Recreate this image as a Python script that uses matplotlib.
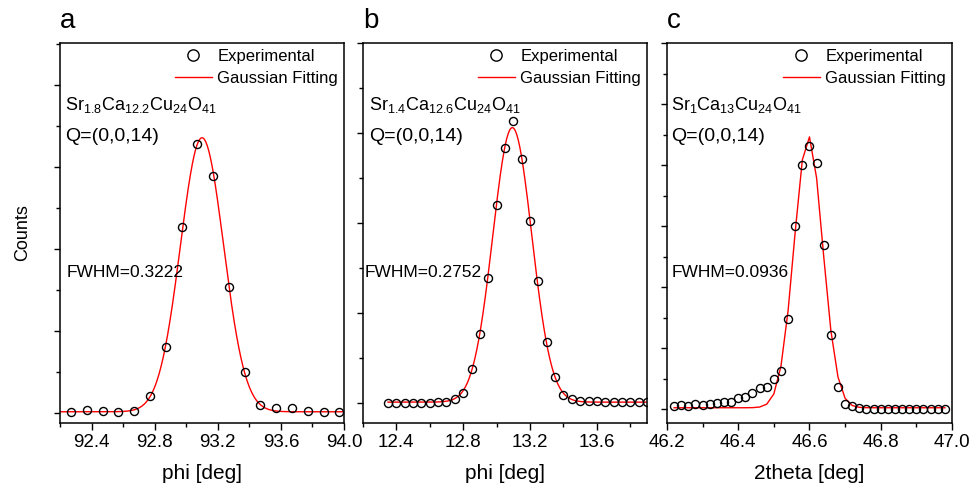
import numpy as np
import matplotlib
matplotlib.use("Agg")
from matplotlib import pyplot as plt
from matplotlib.ticker import MultipleLocator

plt.rcParams['font.family'] = ['Liberation Sans', 'DejaVu Sans']
plt.rcParams['mathtext.fontset'] = 'custom'
plt.rcParams['mathtext.rm'] = 'Liberation Sans'
plt.rcParams['mathtext.it'] = 'Liberation Sans'

# ---- panel a : phi scan, Sr1.8Ca12.2Cu24O41 (counts in tick units) ----
a_x = [92.27, 92.37, 92.47, 92.57, 92.67, 92.77, 92.87, 92.97, 93.07,
       93.17, 93.27, 93.37, 93.47, 93.57, 93.67, 93.77, 93.87, 93.97]
a_y = [0.03, 0.07, 0.06, 0.02, 0.06, 0.41, 1.60, 4.54, 6.56,
       5.79, 3.08, 1.01, 0.20, 0.13, 0.13, 0.04, 0.03, 0.03]
a_fit = [93.10, 0.3222, 6.68, 0.03]   # center, FWHM, height, background

# ---- panel b : phi scan, Sr1.4Ca12.6Cu24O41 ----
b_x = [12.35, 12.40, 12.45, 12.50, 12.55, 12.60, 12.65, 12.70, 12.75, 12.80,
       12.85, 12.90, 12.95, 13.00, 13.05, 13.10, 13.15, 13.20, 13.25, 13.30,
       13.35, 13.40, 13.45, 13.50, 13.55, 13.60, 13.65, 13.70, 13.75, 13.80,
       13.85, 13.90]
b_y = [0.01, 0.01, 0.01, 0.01, 0.01, 0.01, 0.02, 0.03, 0.10, 0.22,
       0.75, 1.54, 2.78, 4.41, 5.66, 6.27, 5.43, 4.05, 2.71, 1.36,
       0.58, 0.18, 0.09, 0.05, 0.04, 0.04, 0.03, 0.03, 0.03, 0.03,
       0.03, 0.03]
b_fit = [13.094, 0.2752, 6.10, 0.02]

# ---- panel c : 2theta scan, Sr1Ca13Cu24O41 ----
c_x = [46.22, 46.24, 46.26, 46.28, 46.30, 46.32, 46.34, 46.36, 46.38, 46.40,
       46.42, 46.44, 46.46, 46.48, 46.50, 46.52, 46.54, 46.56, 46.58, 46.60,
       46.62, 46.64, 46.66, 46.68, 46.70, 46.72, 46.74, 46.76, 46.78, 46.80,
       46.82, 46.84, 46.86, 46.88, 46.90, 46.92, 46.94, 46.96, 46.98]
c_y = [0.12, 0.14, 0.12, 0.17, 0.14, 0.17, 0.22, 0.24, 0.25, 0.37,
       0.39, 0.54, 0.69, 0.74, 0.98, 1.27, 2.96, 6.01, 7.99, 8.61,
       8.07, 5.39, 2.42, 0.73, 0.18, 0.12, 0.03, 0.02, 0.02, 0.02,
       0.02, 0.02, 0.02, 0.02, 0.02, 0.02, 0.02, 0.02, 0.02]
c_fit = [46.597, 0.0936, 8.90, 0.05]

labels = ["a", "b", "c"]
formulas = [r"Sr$_{1.8}$Ca$_{12.2}$Cu$_{24}$O$_{41}$",
            r"Sr$_{1.4}$Ca$_{12.6}$Cu$_{24}$O$_{41}$",
            r"Sr$_{1}$Ca$_{13}$Cu$_{24}$O$_{41}$"]
fwhm_txt = ["FWHM=0.3222", "FWHM=0.2752", "FWHM=0.0936"]
xlabels = ["phi [deg]", "phi [deg]", "2theta [deg]"]


def gauss(x, p):
    c, fw, h, bg = p
    s = fw / (2 * np.sqrt(2 * np.log(2)))
    return bg + h * np.exp(-(x - c) ** 2 / (2 * s ** 2))


fig = plt.figure(figsize=(9.71, 4.86), dpi=100)
rects = [[0.0618, 0.1296, 0.2925, 0.7819],
         [0.3738, 0.1296, 0.2925, 0.7819],
         [0.6869, 0.1296, 0.2935, 0.7819]]

panels = [
    (a_x, a_y, a_fit, (92.2, 94.0), (-0.244, 9.02), np.linspace(92.2, 94.0, 400)),
    (b_x, b_y, b_fit, (12.2, 13.9), (-0.444, 8.0), np.linspace(b_x[0], 13.9, 400)),
    (c_x, c_y, c_fit, (46.2, 47.0), (-0.45, 12.0), np.array(c_x)),
]
text_x = [0.018, 0.022, 0.013]
fw_x = [0.024, 0.007, 0.016]

for k, (x, y, fit, xl, yl, xf) in enumerate(panels):
    ax = fig.add_axes(rects[k])
    ax.plot(x, y, "o", mfc="none", mec="black", ms=5.8, mew=1.0,
            label="Experimental", zorder=3)
    ax.plot(xf, gauss(xf, fit), "-", color="red", lw=1.0,
            label="Gaussian Fitting", zorder=2)
    ax.set_xlim(*xl)
    ax.set_ylim(*yl)
    if k == 2:
        ax.xaxis.set_major_locator(MultipleLocator(0.2))
        ax.xaxis.set_minor_locator(MultipleLocator(0.1))
    else:
        ax.xaxis.set_major_locator(MultipleLocator(0.4))
        ax.xaxis.set_minor_locator(MultipleLocator(0.2))
    ax.yaxis.set_major_locator(MultipleLocator(2))
    ax.yaxis.set_minor_locator(MultipleLocator(1))
    ax.tick_params(axis="x", which="major", direction="out", length=5,
                   width=1, labelsize=13.5, pad=3)
    ax.tick_params(axis="x", which="minor", direction="out", length=3, width=1)
    ax.tick_params(axis="y", which="both", direction="out", length=4,
                   width=1, labelleft=False)
    ax.tick_params(axis="y", which="minor", length=3)
    ax.xaxis.set_major_formatter(matplotlib.ticker.FormatStrFormatter("%.1f"))
    for sp in ax.spines.values():
        sp.set_linewidth(1.1)
    ax.set_xlabel(xlabels[k], fontsize=15, labelpad=9.5)

    ax.legend(loc="upper right", frameon=False, fontsize=12, markerscale=1.4,
              bbox_to_anchor=(1.0, 1.0), borderaxespad=0.0, borderpad=0.35,
              handlelength=2.2, handletextpad=0.35, labelspacing=0.4)

    ax.text(text_x[k], 0.837, formulas[k], transform=ax.transAxes,
            fontsize=13, va="center", ha="left")
    ax.text(text_x[k], 0.755, "Q=(0,0,14)", transform=ax.transAxes,
            fontsize=14, va="center", ha="left")
    ax.text(fw_x[k], 0.396, fwhm_txt[k], transform=ax.transAxes,
            fontsize=12.5, va="center", ha="left")
    ax.text(0.0, 1.04, labels[k], transform=ax.transAxes, fontsize=20,
            va="baseline", ha="left")
    if k == 0:
        ax.set_ylabel("Counts", fontsize=13)
        ax.yaxis.set_label_coords(-0.1, 0.5)

plt.savefig("out.png", dpi=100)
